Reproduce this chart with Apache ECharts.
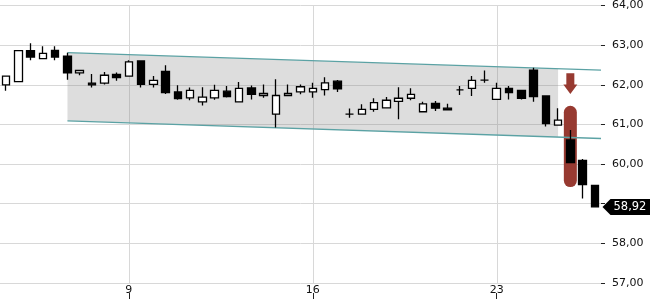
<!DOCTYPE html>
<html><head><meta charset="utf-8">
<script src="https://cdn.jsdelivr.net/npm/echarts@6/dist/echarts.min.js"></script>
<style>html,body{margin:0;padding:0;background:#fff}#c{width:650px;height:300px}</style>
</head><body><div id="c"></div>
<script>
const categories = ['3 C','4 A','4 B','4 C','5 A','5 B','5 C','6 A','6 B','6 C',
  '9 A','9 B','9 C','10 A','10 B','10 C','11 A','11 B','11 C','12 A','12 B','12 C','13 A','13 B','13 C',
  '16 A','16 B','16 C','17 A','17 B','17 C','18 A','18 B','18 C','19 A','19 B','19 C','20 A','20 B','20 C',
  '23 A','23 B','23 C','24 A','24 B','24 C','25 A','25 B','25 C'];
const opens  = [62.00,62.08,62.86,62.66,62.87,62.72,62.30,62.04,62.04,62.26,62.22,62.60,62.01,62.34,61.82,61.67,61.57,61.67,61.84,61.57,61.92,61.73,61.26,61.73,61.82,61.82,61.88,62.09,61.26,61.26,61.38,61.42,61.58,61.66,61.32,61.53,61.41,61.87,61.91,62.12,61.63,61.91,61.86,62.37,61.72,60.98,60.61,60.09,59.46];
const closes = [62.22,62.86,62.70,62.79,62.70,62.30,62.36,62.00,62.24,62.18,62.58,62.01,62.11,61.80,61.65,61.86,61.69,61.86,61.70,61.91,61.76,61.78,61.73,61.78,61.95,61.91,62.05,61.90,61.26,61.38,61.55,61.61,61.66,61.76,61.52,61.41,61.37,61.87,62.11,62.12,61.91,61.80,61.66,61.70,61.02,61.11,60.04,59.48,58.92];
const lows   = [61.85,62.08,62.62,62.66,62.62,62.13,62.24,61.93,62.01,62.10,62.22,61.93,61.93,61.77,61.62,61.61,61.48,61.62,61.68,61.57,61.63,61.67,60.92,61.73,61.76,61.67,61.73,61.82,61.17,61.26,61.32,61.40,61.13,61.61,61.32,61.34,61.37,61.74,61.72,62.05,61.63,61.63,61.63,61.57,60.95,60.98,60.04,59.13,58.92];
const highs  = [62.22,62.88,63.05,62.97,62.97,62.81,62.36,62.27,62.32,62.31,62.62,62.62,62.22,62.49,61.99,61.93,61.94,62.00,61.97,62.07,61.98,62.01,62.14,62.01,62.01,62.05,62.19,62.12,61.40,61.51,61.66,61.69,61.94,61.91,61.57,61.59,61.52,61.97,62.22,62.36,62.05,61.97,61.86,62.43,61.72,61.41,60.86,60.13,59.46];
const tickCategories = ['9 A','16 A','23 A'];
const yMin = 57, yMax = 64, yStep = 1;
const channelTop = [[5, 62.81], [48.5, 62.37]];
const channelBottom = [[5, 61.09], [48.5, 60.645]];
const channelFillRange = [5, 45];
const highlight = [46, 61.47, 59.42];      // category index, top value, bottom value
const arrowMark = [46, 62.29, 62.01, 61.77]; // category index, top, neck, tip
const lastPrice = 58.92;

const candleData = opens.map((o, i) => [o, closes[i], lows[i], highs[i]]);
const tickIdx = tickCategories.map(c => categories.indexOf(c));
const fmt = v => v.toFixed(2).replace('.', ',');
function lerp(line, x) {
  const [[x0, y0], [x1, y1]] = line;
  return y0 + (y1 - y0) * (x - x0) / (x1 - x0);
}
const teal = '#5ba2a4';
const red = '#973a31';
const FONT = 'DejaVu Sans';

const chart = echarts.init(document.getElementById('c'));
chart.setOption({
  animation: false,
  backgroundColor: '#fff',
  grid: { left: 0, right: 49, top: 4, bottom: 17 },
  xAxis: [
    { type: 'category', data: categories, boundaryGap: true,
      axisLine: { show: false, onZero: false }, axisTick: { show: false }, splitLine: { show: false },
      axisLabel: { interval: (i, v) => tickCategories.includes(v), formatter: v => v.split(' ')[0],
        margin: 2, fontSize: 11, color: '#111', fontFamily: FONT } },
    { type: 'category', data: categories, boundaryGap: true, position: 'bottom', offset: 10,
      axisLine: { show: false, onZero: false }, axisLabel: { show: false }, splitLine: { show: false },
      axisTick: { show: true, alignWithLabel: true, length: 6,
        interval: (i, v) => tickCategories.includes(v), lineStyle: { color: '#222' } } },
    { type: 'value', min: -0.5, max: 48.5, show: false, axisLine: { onZero: false } }
  ],
  yAxis: { type: 'value', position: 'right', min: yMin, max: yMax, interval: yStep,
    axisLine: { show: false, onZero: false },
    axisTick: { show: true, length: 4, lineStyle: { color: '#222' } },
    axisLabel: { formatter: fmt, margin: 11, fontSize: 11, color: '#111', fontFamily: FONT },
    splitLine: { lineStyle: { color: '#d8d8d8', width: 1 } } },
  series: [
    { type: 'custom', xAxisIndex: 0, z: 1, silent: true, data: tickIdx.map(i => [i]),
      renderItem: (params, api) => {
        const cs = params.coordSys;
        const x = Math.round(api.coord([api.value(0), yMin])[0]) + 0.5;
        return { type: 'line', shape: { x1: x, y1: cs.y, x2: x, y2: cs.y + cs.height },
          style: { stroke: '#d8d8d8', lineWidth: 1 } };
      } },
    { type: 'custom', xAxisIndex: 2, z: 1, silent: true, data: [[0]],
      renderItem: (params, api) => {
        const [a, b] = channelFillRange;
        const pts = [api.coord([a, lerp(channelTop, a)]), api.coord([b, lerp(channelTop, b)]),
          api.coord([b, lerp(channelBottom, b)]), api.coord([a, lerp(channelBottom, a)])];
        return { type: 'polygon', shape: { points: pts }, style: { fill: 'rgba(128,128,128,0.27)' } };
      } },
    { type: 'line', xAxisIndex: 2, z: 2, silent: true, symbol: 'none', data: channelTop,
      lineStyle: { color: teal, width: 1.4 } },
    { type: 'line', xAxisIndex: 2, z: 2, silent: true, symbol: 'none', data: channelBottom,
      lineStyle: { color: teal, width: 1.4 } },
    { type: 'custom', xAxisIndex: 0, z: 2, silent: true, data: [highlight],
      renderItem: (params, api) => {
        const p1 = api.coord([api.value(0), api.value(1)]);
        const p2 = api.coord([api.value(0), api.value(2)]);
        const w = 13;
        return { type: 'rect', shape: { x: p1[0] - w / 2, y: p1[1], width: w, height: p2[1] - p1[1], r: w / 2 },
          style: { fill: red } };
      } },
    { type: 'candlestick', xAxisIndex: 0, z: 3, data: candleData, barWidth: 8,
      itemStyle: { color: '#fff', color0: '#000', borderColor: '#000', borderColor0: '#000', borderWidth: 1.3 } },
    { type: 'custom', xAxisIndex: 0, z: 3, silent: true, data: [arrowMark],
      renderItem: (params, api) => {
        const c = api.coord([api.value(0), api.value(1)]);
        const yTop = c[1];
        const yNeck = api.coord([api.value(0), api.value(2)])[1];
        const yTip = api.coord([api.value(0), api.value(3)])[1];
        const x = c[0], s = 4, h = 7;
        return { type: 'polygon', shape: { points: [[x - s, yTop], [x + s, yTop], [x + s, yNeck], [x + h, yNeck],
          [x, yTip], [x - h, yNeck], [x - s, yNeck]] }, style: { fill: red } };
      } },
    { type: 'custom', xAxisIndex: 0, z: 5, silent: true, clip: false, data: [[categories.length - 1, lastPrice]],
      renderItem: (params, api) => {
        const cs = params.coordSys;
        const y = api.coord([api.value(0), api.value(1)])[1];
        const x0 = cs.x + cs.width + 1.5;
        const W = api.getWidth();
        return { type: 'group', children: [
          { type: 'polygon', shape: { points: [[x0, y], [x0 + 8, y - 8], [W, y - 8], [W, y + 8], [x0 + 8, y + 8]] },
            style: { fill: '#000' } },
          { type: 'text', style: { x: x0 + 11, y: y + 0.5, text: fmt(api.value(1)), fill: '#fff',
            font: '11.5px ' + FONT, align: 'left', verticalAlign: 'middle' } }
        ] };
      } }
  ]
});
</script></body></html>
